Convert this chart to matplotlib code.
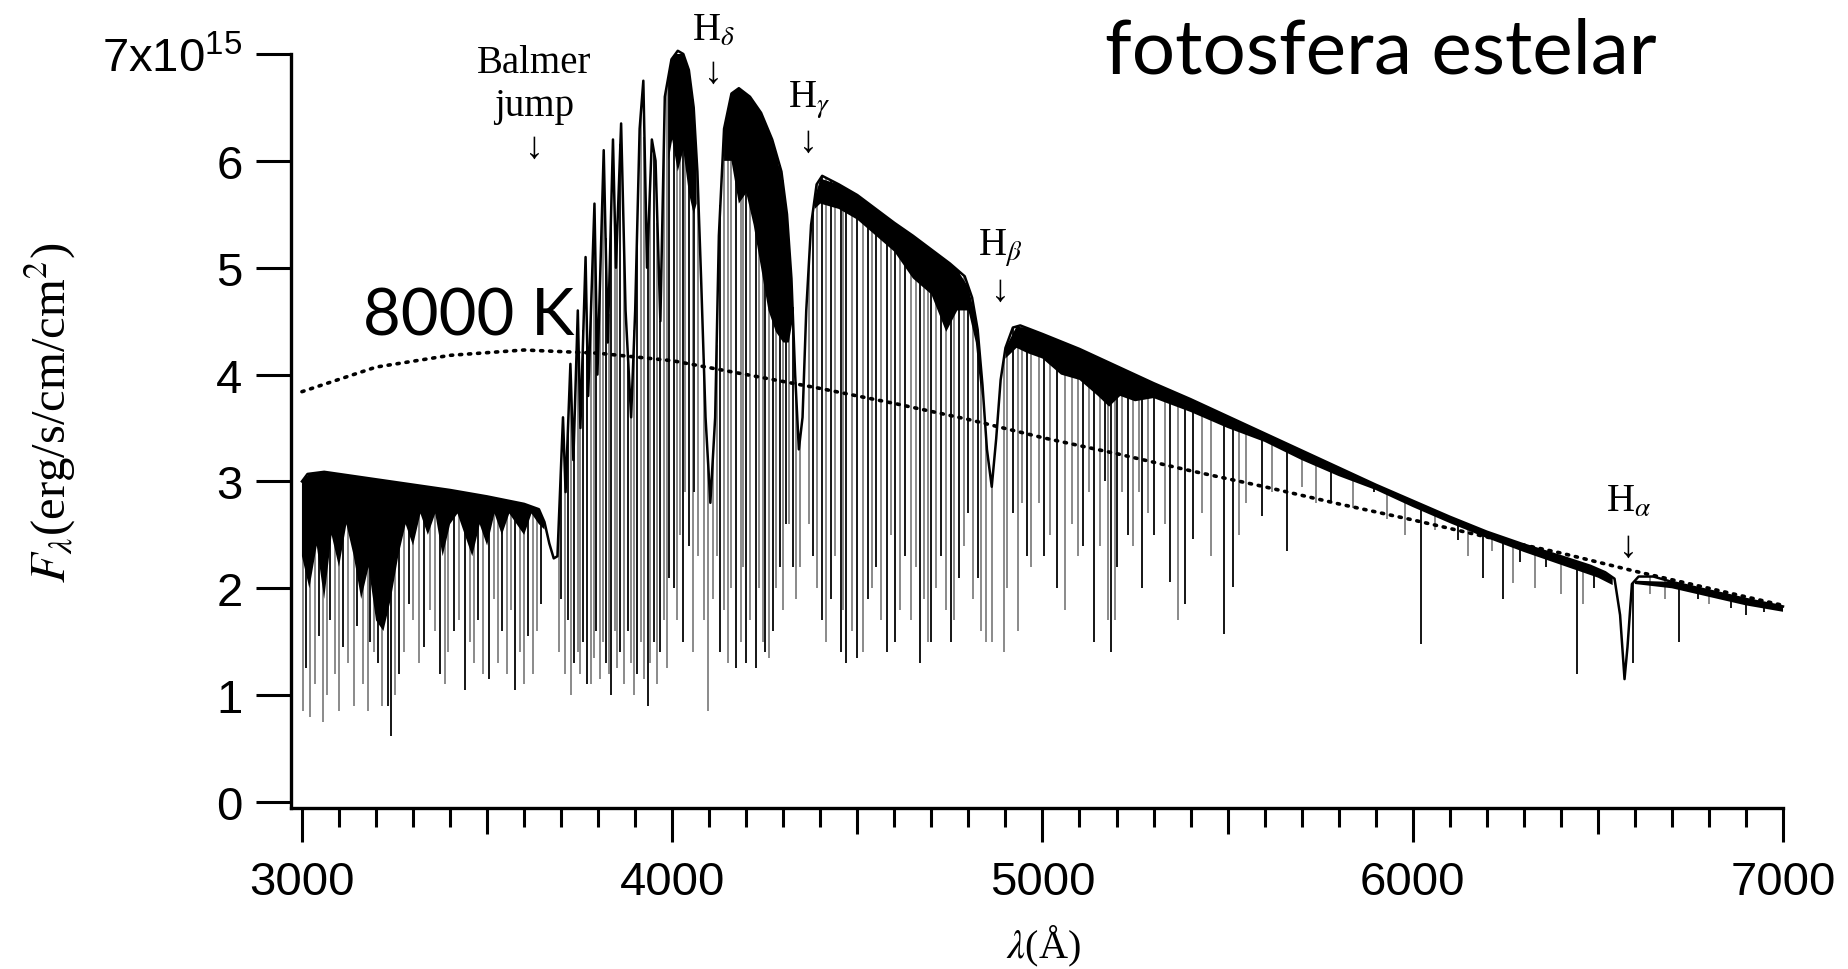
import numpy as np
import matplotlib
matplotlib.use("Agg")
import matplotlib.pyplot as plt
from matplotlib.ticker import FixedLocator

plt.rcParams["mathtext.fontset"] = "custom"
plt.rcParams["mathtext.rm"] = "Liberation Sans"

# --- spectrum upper envelope, flux in 1e15 erg/s/cm/cm2
cont_wl = [3000, 3015, 3060, 3120, 3200, 3300, 3400, 3500, 3600, 3640, 3655, 3668, 3680, 3690,
           3705, 3712, 3725, 3733, 3745, 3752, 3766, 3773, 3790, 3798, 3815, 3826, 3840, 3848,
           3862, 3874, 3889, 3900, 3912, 3922, 3932, 3945, 3955, 3968, 3980, 3998, 4015, 4030,
           4045, 4058, 4068, 4078, 4090, 4103, 4116, 4126, 4140, 4160, 4180, 4210, 4240, 4270,
           4295, 4310, 4322, 4332, 4342, 4352, 4362, 4375, 4390, 4405, 4450, 4500, 4550, 4600,
           4650, 4700, 4750, 4790, 4810, 4825, 4838, 4850, 4863, 4875, 4887, 4900, 4920, 4940,
           5000, 5100, 5200, 5300, 5400, 5500, 5600, 5700, 5800, 5900, 6000, 6100, 6200, 6300,
           6400, 6480, 6520, 6545, 6560, 6572, 6580, 6592, 6610, 6650, 6700, 6800, 6900, 7000]
cont_fl = [3.00, 3.07, 3.09, 3.06, 3.02, 2.97, 2.92, 2.86, 2.79, 2.74, 2.62, 2.42, 2.28, 2.30,
           3.60, 2.90, 4.10, 3.20, 4.60, 3.50, 5.10, 3.80, 5.60, 4.00, 6.10, 4.30, 6.20, 5.00,
           6.35, 4.60, 3.60, 4.60, 6.30, 6.75, 5.00, 6.20, 6.00, 4.50, 6.60, 6.95, 7.03, 7.00,
           6.85, 6.50, 5.90, 4.90, 3.60, 2.80, 3.60, 5.30, 6.30, 6.63, 6.68, 6.60, 6.45, 6.20,
           5.90, 5.50, 4.90, 4.00, 3.30, 3.60, 4.60, 5.40, 5.78, 5.86, 5.78, 5.68, 5.55, 5.42,
           5.30, 5.17, 5.04, 4.92, 4.72, 4.42, 3.90, 3.30, 2.95, 3.40, 3.95, 4.25, 4.44, 4.46,
           4.38, 4.24, 4.08, 3.92, 3.77, 3.61, 3.45, 3.29, 3.13, 2.97, 2.82, 2.67, 2.53, 2.41,
           2.30, 2.21, 2.15, 2.09, 1.75, 1.15, 1.45, 2.04, 2.11, 2.11, 2.06, 1.98, 1.90, 1.83]

# --- dense line forest just under the envelope (lower edge), nan = no forest
band_wl = [3000, 3020, 3040, 3060, 3080, 3100, 3120, 3140, 3160, 3180, 3200, 3220, 3240, 3260,
           3280, 3300, 3320, 3340, 3360, 3380, 3400, 3420, 3440, 3460, 3480, 3500, 3520, 3540,
           3560, 3580, 3600, 3620, 3640, 3655, 3660,
           3990, 4000, 4015, 4030, 4045, 4058, 4066, 4070,
           4140, 4160, 4180, 4200, 4220, 4240, 4260, 4280, 4300, 4315, 4325, 4330,
           4385, 4400, 4450, 4500, 4550, 4600, 4650, 4700, 4740, 4770, 4800, 4820, 4835, 4840,
           4900, 4930, 4960, 5000, 5050, 5100, 5150, 5180, 5210, 5250, 5300, 5400, 5500, 5600,
           5700, 5800, 5900, 6000, 6100, 6200, 6300, 6400, 6500, 6540, 6545,
           6600, 6700, 6800, 6900, 7000]
band_lo = [2.30, 2.00, 2.40, 1.90, 2.50, 2.20, 2.60, 2.30, 1.90, 2.20, 1.70, 1.60, 1.90, 2.30,
           2.60, 2.40, 2.70, 2.50, 2.70, 2.30, 2.60, 2.70, 2.50, 2.30, 2.60, 2.40, 2.70, 2.50,
           2.70, 2.60, 2.50, 2.70, 2.60, 2.55, np.nan,
           6.00, 6.20, 5.90, 6.10, 5.70, 5.50, 5.60, np.nan,
           6.00, 6.00, 5.60, 5.70, 5.40, 5.00, 4.60, 4.40, 4.30, 4.30, 4.50, np.nan,
           5.55, 5.60, 5.55, 5.45, 5.30, 5.15, 4.90, 4.75, 4.40, 4.60, 4.60, 4.30, 3.80, np.nan,
           4.15, 4.25, 4.20, 4.15, 4.00, 3.95, 3.80, 3.70, 3.80, 3.75, 3.78, 3.65, 3.50, 3.37,
           3.20, 3.05, 2.92, 2.76, 2.61, 2.47, 2.34, 2.22, 2.10, 2.03, np.nan,
           2.04, 2.00, 1.92, 1.84, 1.78]

# --- individual deep absorption lines: wavelength and line bottom
dark_wl = [3012, 3045, 3075, 3110, 3150, 3185, 3205, 3232, 3240, 3262, 3290, 3330, 3372, 3410,
           3440, 3475, 3505, 3540, 3575, 3610, 3645,
           3700, 3718, 3735, 3760, 3770, 3795, 3820, 3835, 3860, 3880, 3905, 3934, 3950, 3968, 3990,
           4005, 4030, 4045, 4060, 4130, 4172, 4200, 4226, 4250, 4272, 4290, 4308, 4325,
           4380, 4405, 4430, 4455, 4470, 4500, 4530, 4550, 4580, 4602, 4630, 4668, 4700, 4725,
           4752, 4775, 4800, 4825,
           4920, 4958, 5005, 5040, 5110, 5140, 5170, 5185, 5200, 5230, 5270, 5300,
           5345, 5385, 5406, 5490, 5514, 5592, 5660, 5780, 5895, 6022, 6122, 6190, 6245, 6290,
           6360, 6443, 6490, 6596, 6720, 6770, 6860, 6900, 6950]
dark_lo = [1.25, 1.55, 1.70, 1.45, 1.65, 1.50, 1.30, 0.90, 0.62, 1.20, 1.85, 1.45, 1.20, 1.60,
           1.05, 1.70, 1.15, 1.60, 1.05, 1.55, 1.85,
           1.90, 1.70, 1.30, 1.50, 1.10, 1.60, 1.30, 1.00, 1.40, 1.60, 1.20, 0.90, 1.50, 1.40, 2.10,
           2.00, 1.50, 2.40, 2.90, 1.40, 1.25, 1.30, 1.25, 1.40, 1.60, 2.20, 2.60, 2.20,
           2.30, 1.70, 1.90, 1.40, 1.30, 1.35, 1.90, 2.20, 1.40, 1.50, 2.30, 1.30, 1.50, 2.30,
           1.50, 2.10, 2.70, 2.10,
           2.70, 2.30, 2.30, 2.00, 2.40, 1.50, 3.00, 1.40, 2.20, 2.50, 2.00, 2.50,
           2.06, 1.85, 2.46, 1.57, 2.01, 2.68, 2.35, 2.80, 2.90, 1.48, 2.45, 2.10, 1.90, 2.25,
           2.20, 1.20, 2.00, 1.30, 1.50, 1.90, 1.82, 1.75, 1.78]

grey_wl = [3004, 3022, 3035, 3058, 3068, 3090, 3100, 3125, 3140, 3165, 3178, 3195, 3215, 3250,
           3275, 3300, 3315, 3345, 3360, 3385, 3395, 3425, 3455, 3465, 3490, 3520, 3530, 3555,
           3565, 3590, 3600, 3625, 3635,
           3695, 3710, 3726, 3745, 3752, 3780, 3788, 3805, 3812, 3828, 3845, 3852, 3870, 3890,
           3898, 3915, 3925, 3940, 3960, 3978, 3985,
           4012, 4022, 4035, 4055, 4070, 4085, 4096, 4110, 4120, 4140, 4150, 4160, 4185, 4192,
           4210, 4235, 4245, 4262, 4280, 4298, 4315, 4333, 4345,
           4370, 4392, 4415, 4440, 4462, 4485, 4515, 4540, 4565, 4590, 4615, 4645, 4658, 4680,
           4690, 4712, 4740, 4760, 4788, 4812, 4835, 4848, 4865,
           4895, 4905, 4935, 4945, 4970, 4990, 5020, 5060, 5080, 5095, 5125, 5155, 5178, 5195,
           5215, 5245, 5260, 5285,
           5330, 5365, 5430, 5455, 5530, 5550, 5620, 5700, 5740, 5840, 5930, 5980, 6060, 6150,
           6215, 6270, 6330, 6400, 6460, 6640, 6680, 6800]
grey_lo = [0.85, 0.80, 1.10, 0.75, 1.00, 1.20, 0.85, 1.30, 0.90, 1.10, 0.85, 1.40, 0.90, 1.00,
           1.40, 1.70, 1.30, 1.80, 1.60, 1.10, 1.40, 1.70, 1.50, 1.30, 1.20, 1.90, 1.30, 1.20,
           1.80, 1.40, 1.10, 1.20, 1.60,
           1.40, 1.20, 1.00, 1.40, 1.20, 1.10, 1.35, 1.15, 1.50, 1.20, 1.60, 1.25, 1.10, 1.30,
           1.00, 1.50, 1.15, 1.30, 1.10, 1.70, 1.25,
           1.70, 2.50, 2.90, 1.40, 2.30, 1.70, 0.85, 1.90, 2.30, 1.80, 1.30, 2.00, 1.50, 2.20,
           1.70, 2.00, 1.50, 1.35, 2.00, 1.80, 2.60, 1.90, 2.20,
           2.60, 2.00, 1.50, 2.30, 1.80, 1.60, 1.40, 2.00, 1.70, 2.50, 1.80, 1.70, 2.20, 1.90,
           1.50, 2.00, 1.80, 1.70, 2.40, 1.90, 1.60, 1.50, 1.50,
           1.40, 2.00, 1.60, 2.80, 2.20, 2.80, 2.50, 1.80, 2.60, 2.30, 2.90, 2.40, 1.70, 1.70,
           2.90, 2.40, 2.90, 2.70,
           2.60, 1.70, 2.70, 2.30, 2.50, 2.80, 2.90, 2.95, 2.80, 2.75, 2.65, 2.50, 2.55, 2.30,
           2.35, 2.05, 2.00, 1.95, 1.85, 1.95, 1.90, 1.85]

# --- 8000 K black body (dotted)
bb_wl = [3000, 3200, 3400, 3600, 3800, 4000, 4200, 4400, 4600, 4800, 5000, 5200, 5400, 5600,
         5800, 6000, 6200, 6400, 6600, 6800, 7000]
bb_fl = [3.84, 4.07, 4.18, 4.23, 4.20, 4.13, 4.00, 3.87, 3.73, 3.58, 3.41, 3.26, 3.10, 2.95,
         2.79, 2.64, 2.48, 2.33, 2.16, 2.00, 1.84]

# --- labelled features
feat_wl = [3627, 4111, 4369, 4885, 6583]
feat_txt = ["Balmer\njump", r"H$_\delta$", r"H$_\gamma$", r"H$_\beta$", r"H$_\alpha$"]
feat_y = [6.72, 7.22, 6.58, 5.19, 2.81]
arrow_y = [6.12, 6.83, 6.18, 4.79, 2.39]

fig = plt.figure(figsize=(18.49, 9.70), dpi=100)
ax = fig.add_axes([0.1575, 0.1661, 0.8068, 0.7772])

cont_wl = np.array(cont_wl)
cont_fl = np.array(cont_fl)

top = np.interp(grey_wl, cont_wl, cont_fl)
ax.vlines(grey_wl, grey_lo, top, color="#8a8a8a", lw=1.4, zorder=2)
top = np.interp(dark_wl, cont_wl, cont_fl)
ax.vlines(dark_wl, dark_lo, top, color="#151515", lw=1.4, zorder=3)

band_top = np.interp(band_wl, cont_wl, cont_fl)
ax.fill_between(band_wl, band_lo, band_top, color="black", lw=0, zorder=4)

ax.plot(cont_wl, cont_fl, color="black", lw=1.8, zorder=5, clip_on=False)
ax.plot(bb_wl, bb_fl, color="black", lw=2.6, linestyle=(0, (0.6, 1.9)),
        dash_capstyle="round", zorder=6)

ser = ["Liberation Serif", "DejaVu Serif"]
for x, t, y, ya in zip(feat_wl, feat_txt, feat_y, arrow_y):
    ax.text(x, y, t, ha="center", va="center", fontsize=28, family=ser,
            math_fontfamily="stix", linespacing=1.2, clip_on=False)
    ax.text(x, ya, "\u2193", ha="center", va="center", fontsize=27, family=ser,
            clip_on=False)

# axes styling
ax.set_xlim(2971, 7000)
ax.set_ylim(-0.055, 7.0)
for s in ["top", "right"]:
    ax.spines[s].set_visible(False)
for s in ["left", "bottom"]:
    ax.spines[s].set_linewidth(2.4)

ax.set_xticks([3000, 4000, 5000, 6000, 7000])
ax.xaxis.set_minor_locator(FixedLocator([v for v in range(3100, 7000, 100) if v % 500 != 0]))
ax.set_yticks(range(8))
ax.set_yticklabels(["0", "1", "2", "3", "4", "5", "6", r"7x10$^{15}$"])
ax.tick_params(axis="x", which="major", direction="out", length=24.5, width=2.2, pad=13,
               labelsize=34)
ax.tick_params(axis="x", which="minor", direction="out", length=13.5, width=2.2)
ax.tick_params(axis="y", which="major", direction="out", length=25, width=2.2, pad=10,
               labelsize=34)
for lab in ax.get_xticklabels() + ax.get_yticklabels():
    lab.set_family("Liberation Sans")

sec = ax.secondary_xaxis("bottom")
sec.set_xticks([3500, 4500, 5500, 6500])
sec.set_xticklabels([])
sec.tick_params(direction="out", length=19, width=2.2)
sec.spines["bottom"].set_visible(False)

ax.set_ylabel(r"$F_\lambda$(erg/s/cm/cm$^2$)", fontsize=35, family=ser, math_fontfamily="stix")
ax.yaxis.set_label_coords(-0.143, 0.525)
ax.set_xlabel(r"$\lambda$(Å)", fontsize=29, family=ser, math_fontfamily="stix", va="center")
ax.xaxis.set_label_coords(0.504, -0.182)

fig.text(1105 / 1849, 1 - 73 / 970, "fotosfera estelar", fontsize=55, family="Lato",
         ha="left", va="baseline")
fig.text(363 / 1849, 1 - 336 / 970, "8000 K", fontsize=47, family="Lato",
         ha="left", va="baseline")

fig.savefig("out.png", dpi=100, facecolor="white")
